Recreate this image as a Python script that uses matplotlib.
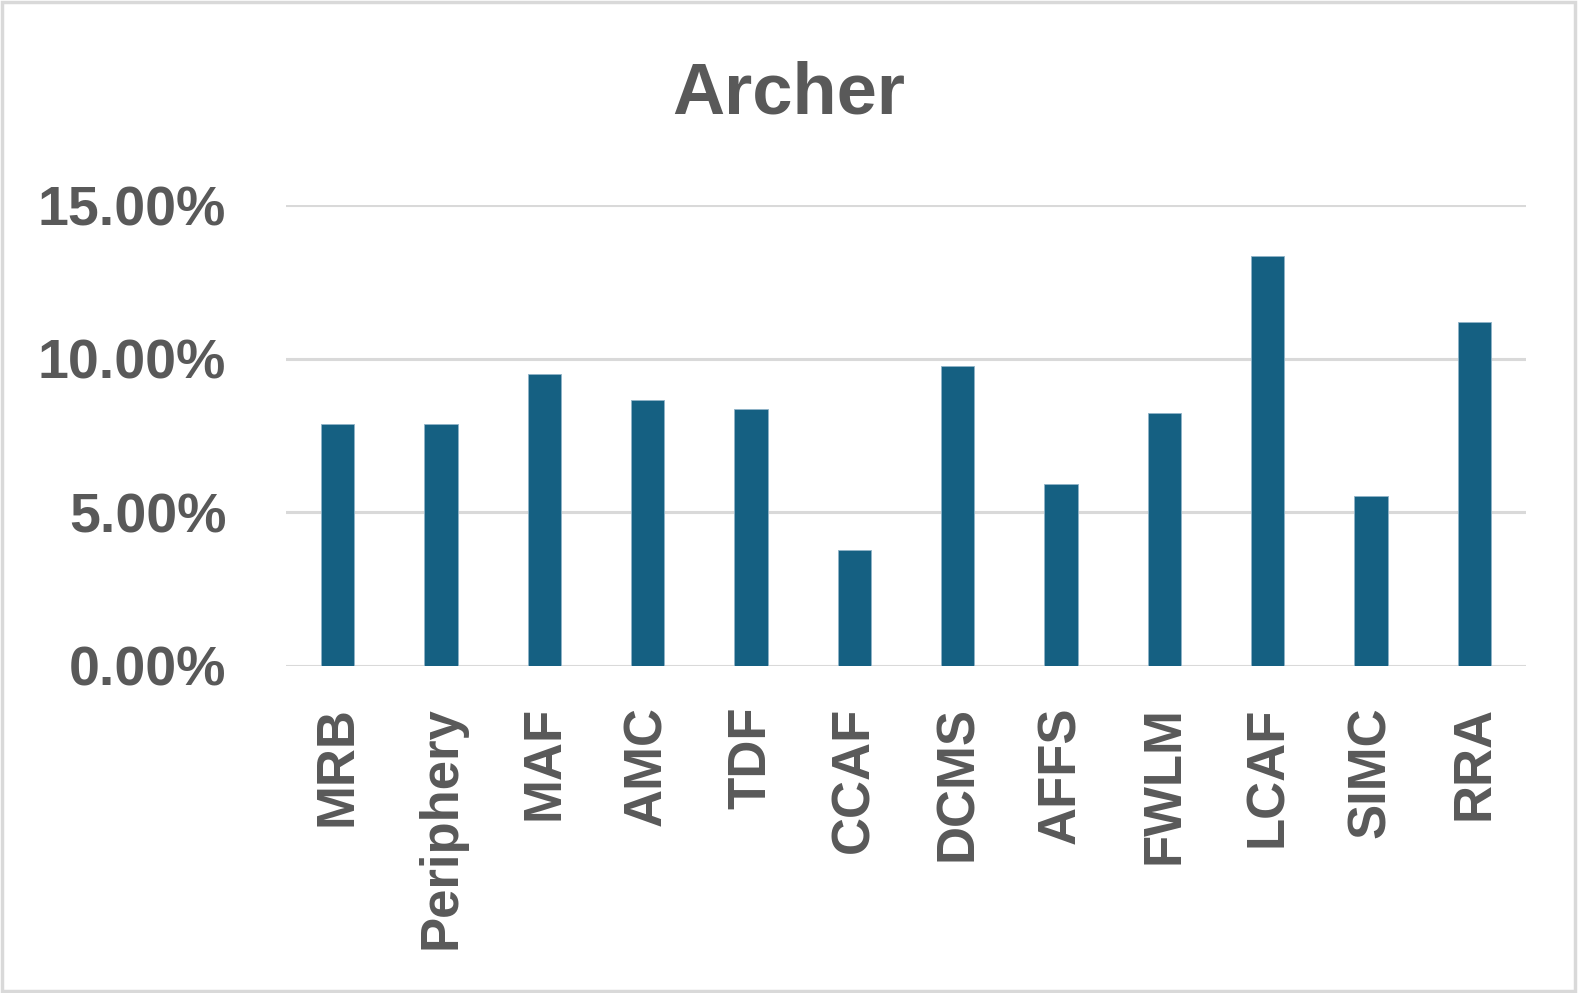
import matplotlib
matplotlib.use("Agg")
import matplotlib.pyplot as plt
from matplotlib.ticker import FuncFormatter
from matplotlib.patches import Rectangle

# values
categories = ["MRB", "Periphery", "MAF", "AMC", "TDF", "CCAF",
              "DCMS", "AFFS", "FWLM", "LCAF", "SIMC", "RRA"]
shares = [0.0786, 0.0786, 0.0949, 0.0867, 0.0835, 0.0376,
          0.0975, 0.0591, 0.0822, 0.1333, 0.0552, 0.1118]
yticks = [0.0, 0.05, 0.10, 0.15]

text_grey = "#595959"
bar_blue = "#156082"
grid_grey = "#D9D9D9"
font = "Liberation Sans"

fig = plt.figure(figsize=(15.78, 9.93), dpi=100)
ax = fig.add_axes([286/1578, 1 - 666/993, (1526-286)/1578, (666-205)/993])

x = range(len(categories))
ax.bar(x, shares, width=0.32, color=bar_blue, edgecolor="#8fb3c8", linewidth=0.6, zorder=3)

ax.set_xlim(-0.5, len(categories) - 0.5)
ax.set_ylim(0, 0.15)
ax.set_yticks(yticks)
ax.yaxis.set_major_formatter(FuncFormatter(lambda v, p: "%.2f%%" % (v*100)))
ax.grid(axis="y", color=grid_grey, linewidth=2.2, zorder=0)
ax.set_axisbelow(True)

for s in ax.spines.values():
    s.set_visible(False)

ax.set_xticks(list(x))
ax.set_xticklabels(categories, rotation=90, fontsize=38, fontweight="bold",
                   color=text_grey, family=font)
ax.tick_params(axis="x", length=0, pad=29)
ax.tick_params(axis="y", length=0, pad=43)
for lab in ax.get_yticklabels():
    lab.set_fontsize(40)
    lab.set_fontweight("bold")
    lab.set_color(text_grey)
    lab.set_family(font)

fig.text(0.5, 1 - 113/993, "Archer", ha="center", va="baseline", fontsize=52,
         fontweight="bold", color=text_grey, family=font)

# chart border
fig.patches.append(Rectangle((0.001, 0.002), 0.997, 0.996, transform=fig.transFigure,
                             fill=False, edgecolor=grid_grey, linewidth=2.5))

fig.savefig("out.png", dpi=100, facecolor="white")
